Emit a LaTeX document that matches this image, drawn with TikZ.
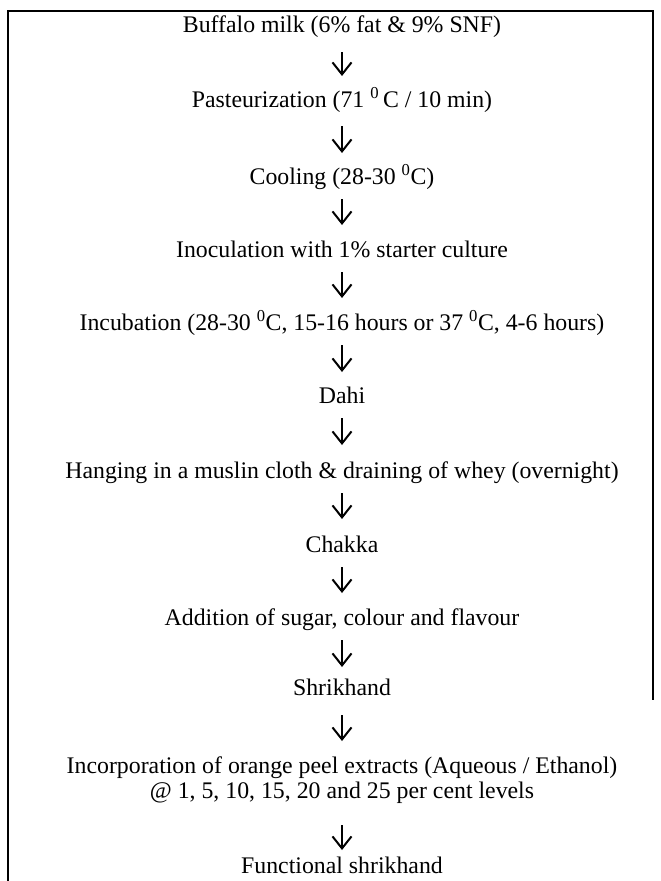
\documentclass[tikz,border=0pt]{standalone}
\usepackage{fontspec}
\setmainfont{Liberation Serif}
\usetikzlibrary{arrows.meta}
\begin{document}
\begin{tikzpicture}[x=1pt,y=-1pt,
  stepnode/.style={inner sep=0pt, font=\fontsize{23.8}{25.5}\selectfont, text height=16.7pt, text depth=5.2pt},
  twolinenode/.style={inner sep=0pt, font=\fontsize{23.8}{25.5}\selectfont, align=center},
  flowarrow/.style={line width=2pt, -{Straight Barb[length=12pt,width=19pt,line width=2pt]}},
  frame/.style={line width=2pt}]
\useasboundingbox (0,0) rectangle (661,881);
\newcommand{\dg}{\textsuperscript{0}}
\node[stepnode] (n1) at (342,27) {Buffalo milk (6\% fat \& 9\% SNF)};
\node[stepnode] (n2) at (342,102) {Pasteurization (71 \dg\,C / 10 min)};
\node[stepnode] (n3) at (342,179) {Cooling (28-30 \dg C)};
\node[stepnode] (n4) at (342,252) {Inoculation with 1\% starter culture};
\node[stepnode] (n5) at (342,325) {Incubation (28-30 \dg C, 15-16 hours or 37 \dg C, 4-6 hours)};
\node[stepnode] (n6) at (342,398) {Dahi};
\node[stepnode] (n7) at (342,473) {Hanging in a muslin cloth \& draining of whey (overnight)};
\node[stepnode] (n8) at (342,547) {Chakka};
\node[stepnode] (n9) at (342,620) {Addition of sugar, colour and flavour};
\node[stepnode] (n10) at (342,690) {Shrikhand};
\node[twolinenode] (n11) at (342,780) {Incorporation of orange peel extracts (Aqueous / Ethanol)\\@ 1, 5, 10, 15, 20 and 25 per cent levels};
\node[stepnode] (n12) at (342,868) {Functional shrikhand};
\draw[flowarrow] ([yshift=-25pt]n1.center) -- ([yshift=26pt]n2.center);
\draw[flowarrow] ([yshift=-24pt]n2.center) -- ([yshift=26pt]n3.center);
\draw[flowarrow] ([yshift=-20pt]n3.center) -- ([yshift=27pt]n4.center);
\draw[flowarrow] ([yshift=-20pt]n4.center) -- ([yshift=27pt]n5.center);
\draw[flowarrow] ([yshift=-20pt]n5.center) -- ([yshift=26pt]n6.center);
\draw[flowarrow] ([yshift=-20pt]n6.center) -- ([yshift=28pt]n7.center);
\draw[flowarrow] ([yshift=-20pt]n7.center) -- ([yshift=28pt]n8.center);
\draw[flowarrow] ([yshift=-20pt]n8.center) -- ([yshift=27pt]n9.center);
\draw[flowarrow] ([yshift=-20pt]n9.center) -- ([yshift=23pt]n10.center);
\draw[flowarrow] ([yshift=-25pt]n10.center) -- ([yshift=39pt]n11.center);
\draw[flowarrow] ([yshift=-45pt]n11.center) -- ([yshift=18pt]n12.center);
\coordinate (bl) at (8,881);
\coordinate (tl) at (8,11);
\coordinate (tr) at (653,11);
\coordinate (br) at (653,700);
\draw[frame] (bl) -- (tl) -- (tr) -- (br);
\end{tikzpicture}
\end{document}
